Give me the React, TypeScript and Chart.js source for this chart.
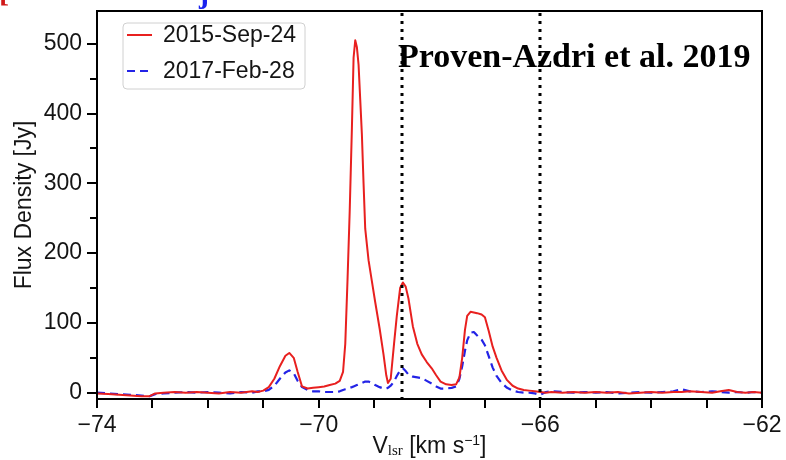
import React, { useEffect, useRef } from 'react';
import { Chart, registerables } from 'chart.js';

Chart.register(...registerables);

// ---- data ----
const velocity = [
  -74.0, -73.8, -73.6, -73.4, -73.2, -73.05, -72.95, -72.8, -72.6, -72.4,
  -72.2, -72.0, -71.8, -71.6, -71.4, -71.2, -71.1, -71.0, -70.9, -70.8,
  -70.7, -70.6, -70.53, -70.45, -70.38, -70.3, -70.2, -70.1, -70.0, -69.9,
  -69.8, -69.7, -69.62, -69.56, -69.52, -69.48, -69.44, -69.4, -69.37, -69.34,
  -69.31, -69.28, -69.25, -69.22, -69.19, -69.16, -69.1, -69.04, -68.98, -68.9,
  -68.83, -68.78, -68.75, -68.7, -68.64, -68.59, -68.53, -68.48, -68.43, -68.38,
  -68.3, -68.22, -68.14, -68.05, -67.96, -67.88, -67.8, -67.7, -67.6, -67.52,
  -67.46, -67.41, -67.36, -67.32, -67.26, -67.2, -67.14, -67.06, -67.0, -66.93,
  -66.86, -66.79, -66.7, -66.6, -66.5, -66.4, -66.3, -66.2, -66.1, -66.0,
  -65.9, -65.8, -65.6, -65.4, -65.2, -65.0, -64.8, -64.6, -64.4, -64.2,
  -64.0, -63.8, -63.6, -63.45, -63.3, -63.1, -62.9, -62.75, -62.6, -62.45,
  -62.3, -62.15, -62.0,
];

const fluxSep2015 = [
  -1, -2, -3, -4, -5, -5, -1, 0, 1, 0,
  1, 0, -1, 1, 0, 2, 1, 3, 8, 20,
  38, 53, 57, 50, 30, 9, 6, 7, 8, 9,
  11, 13, 17, 30, 70, 160, 260, 380, 480, 505,
  495, 470, 420, 370, 300, 235, 190, 160, 130, 92,
  55, 25, 14, 20, 70, 110, 150, 158, 152, 135,
  95, 70, 55, 44, 35, 25, 16, 12, 11, 12,
  22, 50, 90, 110, 116, 115, 114, 112, 108, 88,
  66, 50, 32, 18, 10, 6, 4, 3, 2, 1,
  0, 1, 0, 1, 0, 1, 0, 1, -1, 0,
  1, 0, 1, 1, 2, 1, 0, 2, 4, 1,
  0, 1, 0,
];

const fluxFeb2017 = [
  0, -1, -2, -3, -4, -5, -2, -1, 0, 1,
  0, 1, 0, -1, 1, 0, 2, 2, 4, 10,
  20, 29, 32, 28, 17, 8, 4, 2, 2, 1,
  1, 1, 2, 4, 5, 6, 7, 8, 9, 10,
  11, 12, 13, 14, 15, 16, 16, 14, 11, 8,
  6, 6, 7, 10, 16, 24, 32, 35, 31, 26,
  23, 22, 21, 17, 13, 9, 6, 6, 7, 9,
  20, 38, 60, 75, 86, 87, 82, 76, 68, 52,
  36, 24, 14, 7, 3, 1, 0, 0, -1, -3,
  1, 2, 1, 0, 1, 0, 1, -1, 0, 1,
  0, 1, 2, 5, 2, 1, 2, 1, 0, 1,
  0, 1, 0,
];

const seriesLabels = ['2015-Sep-24', '2017-Feb-28'];
const seriesColors = ['#e8201f', '#2323e6'];

const xTickValues = [-74, -73, -72, -71, -70, -69, -68, -67, -66, -65, -64, -63, -62];
const xLabelValues = [-74, -70, -66, -62];
const yTickValues = [0, 100, 200, 300, 400, 500];
const yMinorTickValues = [50, 150, 250, 350, 450];
const refVelocities = [-68.5, -66];
const annotationText = 'Proven-Azdri et al. 2019';
const yTitle = 'Flux Density [Jy]';

const SANS = '"Liberation Sans", Arial, Helvetica, sans-serif';
const SERIF = '"Liberation Serif", "Times New Roman", serif';
const TEXT = '#141414';

const fmt = (v: number) => (v < 0 ? '\u2212' + Math.abs(v) : String(v));

const decorPlugin = {
  id: 'decor',
  afterDatasetsDraw(chart: any) {
    const { ctx, chartArea: a, scales } = chart;
    const xs = scales.x;
    const ys = scales.y;
    ctx.save();

    // reference dotted lines
    ctx.strokeStyle = '#000';
    ctx.lineWidth = 3;
    ctx.setLineDash([3, 5]);
    refVelocities.forEach((v) => {
      const px = Math.round(xs.getPixelForValue(v));
      ctx.beginPath();
      ctx.moveTo(px, a.top + 2);
      ctx.lineTo(px, a.bottom);
      ctx.stroke();
    });
    ctx.setLineDash([]);

    // frame
    ctx.lineWidth = 2;
    ctx.strokeStyle = '#000';
    ctx.strokeRect(a.left, a.top, a.right - a.left, a.bottom - a.top);

    // minor y ticks
    ctx.lineWidth = 2;
    yMinorTickValues.forEach((v) => {
      const py = Math.round(ys.getPixelForValue(v));
      ctx.beginPath();
      ctx.moveTo(a.left - 7, py);
      ctx.lineTo(a.left, py);
      ctx.stroke();
    });

    // annotation text
    ctx.fillStyle = '#000';
    ctx.font = 'bold 34px ' + SERIF;
    ctx.textAlign = 'left';
    ctx.textBaseline = 'alphabetic';
    ctx.fillText(annotationText, xs.getPixelForValue(-68.57), a.top + 56);

    // legend
    const lx = a.left + 26;
    const ly = a.top + 12;
    const lw = 182;
    const lh = 66;
    ctx.beginPath();
    ctx.roundRect(lx, ly, lw, lh, 4);
    ctx.fillStyle = 'rgba(255,255,255,0.9)';
    ctx.fill();
    ctx.strokeStyle = '#d0d0d0';
    ctx.lineWidth = 1;
    ctx.stroke();
    chart.data.datasets.forEach((ds: any, i: number) => {
      const cy = ly + 12 + i * 36;
      ctx.strokeStyle = ds.borderColor;
      ctx.lineWidth = 2;
      ctx.setLineDash(ds.borderDash || []);
      ctx.beginPath();
      ctx.moveTo(lx + 4, cy);
      ctx.lineTo(lx + 29, cy);
      ctx.stroke();
      ctx.setLineDash([]);
      ctx.fillStyle = TEXT;
      ctx.font = '23px ' + SANS;
      ctx.textAlign = 'left';
      ctx.textBaseline = 'middle';
      ctx.fillText(ds.label, lx + 40, cy + 1);
    });

    ctx.restore();
  },
  afterDraw(chart: any) {
    const { ctx, chartArea: a } = chart;
    ctx.save();

    // y title
    ctx.fillStyle = TEXT;
    ctx.font = '23px ' + SANS;
    ctx.textAlign = 'center';
    ctx.textBaseline = 'middle';
    ctx.translate(25, (a.top + a.bottom) / 2);
    ctx.rotate(-Math.PI / 2);
    ctx.fillText(yTitle, 0, 0);
    ctx.setTransform(1, 0, 0, 1, 0, 0);

    // x title with sub/superscripts
    const parts = [
      { t: 'V', f: '23px ' + SANS, dy: 0 },
      { t: 'lsr', f: '15px ' + SERIF, dy: 2 },
      { t: ' [km s', f: '23px ' + SANS, dy: 0 },
      { t: '\u22121', f: '14px ' + SANS, dy: -8 },
      { t: ']', f: '23px ' + SANS, dy: 0 },
    ];
    let total = 0;
    const widths = parts.map((p) => {
      ctx.font = p.f;
      const w = ctx.measureText(p.t).width;
      total += w;
      return w;
    });
    let x = (a.left + a.right) / 2 - total / 2;
    const base = 453;
    ctx.textAlign = 'left';
    ctx.textBaseline = 'alphabetic';
    parts.forEach((p, i) => {
      ctx.font = p.f;
      ctx.fillText(p.t, x, base + p.dy);
      x += widths[i];
    });

    // cut-off glyphs at the top edge of the picture
    ctx.font = 'bold 30px ' + SERIF;
    ctx.fillStyle = '#d01818';
    ctx.fillText('[', -1, 2);
    ctx.fillStyle = '#1a22ee';
    ctx.fillText('j', 199, 3);

    ctx.restore();
  },
};

export default function App() {
  const ref = useRef<HTMLCanvasElement | null>(null);

  useEffect(() => {
    if (!ref.current) return;
    const series = [fluxSep2015, fluxFeb2017];
    const chart = new Chart(ref.current, {
      type: 'line',
      data: {
        datasets: series.map((s, i) => ({
          label: seriesLabels[i],
          data: velocity.map((v, j) => ({ x: v, y: s[j] })),
          borderColor: seriesColors[i],
          backgroundColor: seriesColors[i],
          borderWidth: i === 1 ? 2.2 : 2,
          borderDash: i === 1 ? [8, 5] : [],
          borderJoinStyle: 'round' as const,
          pointRadius: 0,
          tension: 0,
          fill: false,
        })),
      },
      options: {
        animation: false,
        responsive: false,
        devicePixelRatio: 1,
        layout: { padding: { top: 11, right: 24, left: 0, bottom: 0 } },
        plugins: { legend: { display: false }, tooltip: { enabled: false }, title: { display: false } },
        scales: {
          x: {
            type: 'linear',
            min: -74,
            max: -62,
            afterBuildTicks: (s: any) => {
              s.ticks = xTickValues.map((v) => ({ value: v }));
            },
            afterFit: (s: any) => {
              s.height = 61;
              s.paddingLeft = 0;
              s.paddingRight = 0;
            },
            ticks: {
              autoSkip: false,
              maxRotation: 0,
              padding: 4,
              color: TEXT,
              font: { family: SANS, size: 23 },
              callback: (v: any) => (xLabelValues.includes(Number(v)) ? fmt(Number(v)) : ''),
            },
            grid: { drawOnChartArea: false, drawTicks: true, tickLength: 9, color: '#000', lineWidth: 2 },
            border: { display: false },
          },
          y: {
            type: 'linear',
            min: -9,
            max: 547,
            afterBuildTicks: (s: any) => {
              s.ticks = yTickValues.map((v) => ({ value: v }));
            },
            afterFit: (s: any) => {
              s.width = 97;
              s.paddingTop = 0;
              s.paddingBottom = 0;
            },
            ticks: {
              autoSkip: false,
              padding: 5,
              color: TEXT,
              font: { family: SANS, size: 23 },
              callback: (v: any) => fmt(Number(v)),
            },
            grid: { drawOnChartArea: false, drawTicks: true, tickLength: 10, color: '#000', lineWidth: 2 },
            border: { display: false },
          },
        },
      },
      plugins: [decorPlugin],
    });
    return () => chart.destroy();
  }, []);

  return (
    <div style={{ position: 'fixed', left: 0, top: 0, width: 786, height: 460, background: '#fff' }}>
      <canvas ref={ref} width={786} height={460} style={{ display: 'block' }} />
    </div>
  );
}
